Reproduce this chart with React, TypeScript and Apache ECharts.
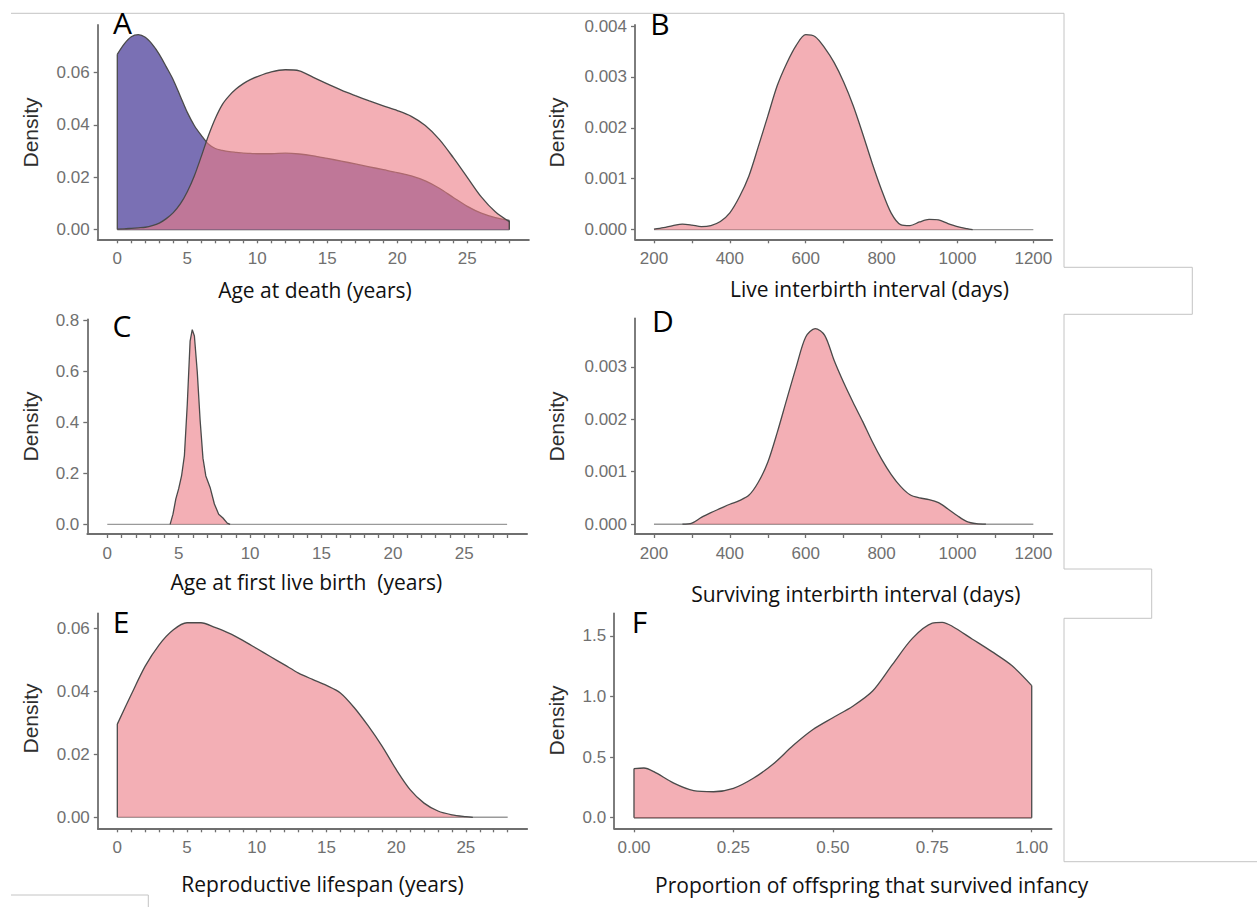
import React, { useEffect, useRef } from "react";
import * as echarts from "echarts";

// ---------- Panel A: age at death (two groups) ----------
const deathAgeYears = [0, 0.5, 1, 1.5, 2, 2.5, 3, 3.5, 4, 4.5, 5, 5.5, 6, 6.5, 7, 7.5, 8, 8.5, 9, 9.5, 10, 11, 12, 13, 14, 15, 16, 17, 18, 19, 20, 21, 22, 23, 24, 25, 26, 27, 28];
const deathDensityBlue = [0.067, 0.071, 0.0737, 0.0745, 0.0735, 0.0708, 0.067, 0.0622, 0.0572, 0.051, 0.0448, 0.0398, 0.036, 0.0327, 0.031, 0.0303, 0.0298, 0.0295, 0.0292, 0.0291, 0.029, 0.029, 0.0292, 0.0289, 0.0282, 0.0272, 0.0262, 0.0251, 0.024, 0.0229, 0.0218, 0.0205, 0.0186, 0.0158, 0.0123, 0.0089, 0.0063, 0.0046, 0.0035];
const deathDensityPink = [0.0002, 0.0003, 0.0005, 0.0007, 0.0009, 0.0015, 0.0025, 0.0042, 0.0065, 0.0098, 0.0145, 0.0205, 0.028, 0.0358, 0.0425, 0.0478, 0.0512, 0.0538, 0.0558, 0.0573, 0.0585, 0.0603, 0.0611, 0.0607, 0.0582, 0.0557, 0.0533, 0.0512, 0.0492, 0.0473, 0.0455, 0.0433, 0.0398, 0.0345, 0.0275, 0.0200, 0.0125, 0.0068, 0.003];

// ---------- Panel B: live interbirth interval ----------
const liveIbiDays = [200, 225, 250, 275, 300, 325, 350, 375, 400, 425, 450, 475, 500, 525, 550, 575, 600, 625, 650, 675, 700, 725, 750, 775, 800, 825, 850, 875, 900, 925, 950, 975, 1000, 1025, 1040];
const liveIbiDensity = [0.00001, 0.00004, 0.00008, 0.00011, 0.00009, 0.00006, 0.00008, 0.00016, 0.00033, 0.00064, 0.00105, 0.00163, 0.00223, 0.00283, 0.00327, 0.00362, 0.00383, 0.00379, 0.00357, 0.00328, 0.0029, 0.00244, 0.00189, 0.00131, 0.00078, 0.00033, 0.0001, 0.00008, 0.00015, 0.0002, 0.00019, 0.00012, 0.00006, 0.00002, 0];

// ---------- Panel C: age at first live birth ----------
const firstBirthAge = [4.4, 4.6, 4.8, 5.0, 5.2, 5.4, 5.6, 5.8, 5.95, 6.1, 6.3, 6.5, 6.7, 6.9, 7.2, 7.5, 7.8, 8.1, 8.4, 8.6];
const firstBirthDensity = [0, 0.04, 0.1, 0.14, 0.19, 0.27, 0.47, 0.72, 0.765, 0.74, 0.6, 0.41, 0.26, 0.19, 0.145, 0.08, 0.04, 0.025, 0.005, 0];

// ---------- Panel D: surviving interbirth interval ----------
const survIbiDays = [275, 300, 325, 350, 375, 400, 425, 450, 475, 500, 525, 550, 575, 600, 625, 650, 675, 700, 725, 750, 775, 800, 825, 850, 875, 900, 925, 950, 975, 1000, 1025, 1050, 1075];
const survIbiDensity = [0, 0.00002, 0.00013, 0.00022, 0.0003, 0.00038, 0.00045, 0.00055, 0.0008, 0.00118, 0.00175, 0.00238, 0.003, 0.00357, 0.00373, 0.0036, 0.00312, 0.0027, 0.00232, 0.00196, 0.00158, 0.00124, 0.00095, 0.00072, 0.00056, 0.0005, 0.00047, 0.00041, 0.00029, 0.00016, 0.00005, 0.00001, 0];

// ---------- Panel E: reproductive lifespan ----------
const reproYears = [0, 1, 2, 3, 4, 5, 6, 7, 8, 9, 10, 11, 12, 13, 14, 15, 16, 17, 18, 19, 20, 21, 22, 23, 24, 25, 25.5];
const reproDensity = [0.0296, 0.039, 0.048, 0.0548, 0.0595, 0.0618, 0.0618, 0.0603, 0.0585, 0.0562, 0.0536, 0.051, 0.0484, 0.0458, 0.0438, 0.0419, 0.0395, 0.0348, 0.029, 0.0225, 0.0152, 0.0088, 0.0045, 0.002, 0.0008, 0.0002, 0];

// ---------- Panel F: proportion of offspring surviving infancy ----------
const survProp = [0, 0.025, 0.05, 0.1, 0.15, 0.2, 0.25, 0.3, 0.35, 0.4, 0.45, 0.5, 0.55, 0.6, 0.65, 0.7, 0.75, 0.775, 0.8, 0.85, 0.9, 0.95, 1.0];
const survPropDensity = [0.405, 0.41, 0.38, 0.285, 0.223, 0.214, 0.242, 0.325, 0.443, 0.595, 0.727, 0.825, 0.92, 1.045, 1.265, 1.48, 1.605, 1.612, 1.58, 1.475, 1.37, 1.255, 1.09];

// ---------- ticks ----------
const yearTicks = [0, 1, 2, 3, 4, 5, 6, 7, 8, 9, 10, 11, 12, 13, 14, 15, 16, 17, 18, 19, 20, 21, 22, 23, 24, 25, 26, 27, 28];
const yearLabels = [0, 5, 10, 15, 20, 25];
const dayTicks = [200, 300, 400, 500, 600, 700, 800, 900, 1000, 1100, 1200];
const dayLabels = [200, 400, 600, 800, 1000, 1200];
const propTicks = [0, 0.25, 0.5, 0.75, 1.0];
const yTicksA = [0, 0.02, 0.04, 0.06];
const yTicksB = [0, 0.001, 0.002, 0.003, 0.004];
const yTicksC = [0, 0.2, 0.4, 0.6, 0.8];
const yTicksD = [0, 0.001, 0.002, 0.003];
const yTicksE = [0, 0.02, 0.04, 0.06];
const yTicksF = [0, 0.5, 1.0, 1.5];

const yearRange = [0, 28];
const dayRange = [200, 1200];
const propRange = [0, 1];

const titles = [
  "Age at death (years)",
  "Live interbirth interval (days)",
  "Age at first live birth  (years)",
  "Surviving interbirth interval (days)",
  "Reproductive lifespan (years)",
  "Proportion of offspring that survived infancy",
];
const letters = ["A", "B", "C", "D", "E", "F"];

const AX = "#6f6f6f";
const LAB = "#707070";
const OUT = "#4a4a4a";
const PINK = "rgba(235,124,134,0.61)";
const BLUE = "#7A70B4";

const pairs = (xs: number[], ys: number[]) => xs.map((x, i) => [x, ys[i]]);

const panels = [
  { grid: { left: 97.7, top: 25, width: 431.2, height: 214.3 }, xmin: -1.4, xmax: 29.4, xt: yearTicks, xl: yearLabels, xd: 0, ymin: -0.0037, ymax: 0.0782, yt: yTicksA, yd: 2 },
  { grid: { left: 635, top: 25, width: 417.3, height: 214.3 }, xmin: 150, xmax: 1250, xt: dayTicks, xl: dayLabels, xd: 0, ymin: -0.00019, ymax: 0.00402, yt: yTicksB, yd: 3 },
  { grid: { left: 87.3, top: 319.3, width: 439.8, height: 214.7 }, xmin: -1.4, xmax: 29.4, xt: yearTicks, xl: yearLabels, xd: 0, ymin: -0.038, ymax: 0.8055, yt: yTicksC, yd: 1 },
  { grid: { left: 635, top: 318.3, width: 417.3, height: 215.7 }, xmin: 150, xmax: 1250, xt: dayTicks, xl: dayLabels, xd: 0, ymin: -0.000187, ymax: 0.003925, yt: yTicksD, yd: 3 },
  { grid: { left: 97.8, top: 613.3, width: 429.4, height: 215 }, xmin: -1.4, xmax: 29.4, xt: yearTicks, xl: yearLabels, xd: 0, ymin: -0.0035, ymax: 0.0648, yt: yTicksE, yd: 2 },
  { grid: { left: 614.1, top: 613.3, width: 437.5, height: 215 }, xmin: -0.05, xmax: 1.05, xt: propTicks, xl: propTicks, xd: 2, ymin: -0.0875, ymax: 1.6865, yt: yTicksF, yd: 1 },
];

const densityPos = [
  [30.8, 132.5], [556, 132.5], [30.8, 426.5], [556, 426.5], [30.8, 718.5], [556, 720.5],
];
const titlePos = [
  [315, 289.5], [869.5, 288.8], [306.3, 581.8], [855.8, 593.5], [322.5, 883.5], [871.7, 885.1],
];
const letterPos = [
  [122.5, 22.5], [660, 23], [122, 325], [663, 320], [121, 621], [639.5, 621.7],
];

function areaSeries(i: number, xs: number[], ys: number[], fill: string, smooth: number | boolean, z: number) {
  return {
    type: "line",
    xAxisIndex: i,
    yAxisIndex: i,
    data: pairs(xs, ys),
    showSymbol: false,
    symbol: "none",
    smooth,
    silent: true,
    z,
    lineStyle: { color: OUT, width: 1.3 },
    areaStyle: { color: fill, opacity: 1 },
  };
}

function edgeSeries(i: number, xs: number[], ys: number[], z: number) {
  const out: any[] = [];
  const n = xs.length - 1;
  if (ys[0] > 0) out.push([[xs[0], 0], [xs[0], ys[0]]]);
  if (ys[n] > 0) out.push([[xs[n], ys[n]], [xs[n], 0]]);
  return out.map((d) => ({
    type: "line",
    xAxisIndex: i,
    yAxisIndex: i,
    data: d,
    showSymbol: false,
    symbol: "none",
    silent: true,
    z,
    lineStyle: { color: OUT, width: 1.3 },
  }));
}

function baseSeries(i: number, range: number[], color: string) {
  return {
    type: "line",
    xAxisIndex: i,
    yAxisIndex: i,
    data: [[range[0], 0], [range[1], 0]],
    showSymbol: false,
    symbol: "none",
    silent: true,
    z: 1,
    lineStyle: { color, width: 1.4 },
  };
}

function buildOption() {
  const grid = panels.map((p) => ({ ...p.grid, containLabel: false }));
  const xAxis = panels.map((p, i) => ({
    type: "value",
    gridIndex: i,
    min: p.xmin,
    max: p.xmax,
    axisLine: { show: true, onZero: false, lineStyle: { color: AX, width: 1.8 } },
    axisTick: { show: true, length: 4, customValues: p.xt, lineStyle: { color: AX, width: 1.3 } },
    axisLabel: {
      customValues: p.xl,
      formatter: (v: number) => v.toFixed(p.xd),
      margin: 11,
      color: LAB,
      fontFamily: "Liberation Sans",
      fontSize: 17,
    },
    splitLine: { show: false },
  }));
  const yAxis = panels.map((p, i) => ({
    type: "value",
    gridIndex: i,
    min: p.ymin,
    max: p.ymax,
    axisLine: { show: true, onZero: false, lineStyle: { color: AX, width: 1.8 } },
    axisTick: { show: true, length: 4, customValues: p.yt, lineStyle: { color: AX, width: 1.3 } },
    axisLabel: {
      customValues: p.yt,
      formatter: (v: number) => v.toFixed(p.yd),
      margin: 8,
      color: LAB,
      fontFamily: "Liberation Sans",
      fontSize: 17,
    },
    splitLine: { show: false },
  }));

  const series: any[] = [
    // A
    baseSeries(0, yearRange, OUT),
    areaSeries(0, deathAgeYears, deathDensityBlue, BLUE, 0.3, 2),
    ...edgeSeries(0, deathAgeYears, deathDensityBlue, 2),
    areaSeries(0, deathAgeYears, deathDensityPink, PINK, 0.3, 3),
    ...edgeSeries(0, deathAgeYears, deathDensityPink, 3),
    // B
    baseSeries(1, dayRange, "#9a9a9a"),
    areaSeries(1, liveIbiDays, liveIbiDensity, PINK, 0.3, 2),
    // C
    baseSeries(2, yearRange, "#9a9a9a"),
    areaSeries(2, firstBirthAge, firstBirthDensity, PINK, false, 2),
    // D
    baseSeries(3, dayRange, "#9a9a9a"),
    areaSeries(3, survIbiDays, survIbiDensity, PINK, 0.3, 2),
    // E
    baseSeries(4, yearRange, "#9a9a9a"),
    areaSeries(4, reproYears, reproDensity, PINK, 0.3, 2),
    ...edgeSeries(4, reproYears, reproDensity, 2),
    // F
    baseSeries(5, propRange, OUT),
    areaSeries(5, survProp, survPropDensity, PINK, 0.3, 2),
    ...edgeSeries(5, survProp, survPropDensity, 2),
  ];

  const graphic: any[] = [
    {
      type: "polyline",
      silent: true,
      z: 0,
      shape: {
        points: [
          [11, 13.3], [1064, 13.3], [1064, 267.3], [1192.3, 267.3], [1192.3, 314.3], [1064, 314.3],
          [1064, 569], [1151.7, 569], [1151.7, 618.3], [1064, 618.3], [1064, 861.7], [1257, 861.7],
        ],
      },
      style: { stroke: "#c4c4c4", lineWidth: 1, fill: null },
    },
    {
      type: "polyline",
      silent: true,
      z: 0,
      shape: { points: [[11, 895], [148.3, 895], [148.3, 907]] },
      style: { stroke: "#c4c4c4", lineWidth: 1, fill: null },
    },
  ];
  letters.forEach((t, i) => {
    graphic.push({
      type: "text",
      x: letterPos[i][0],
      y: letterPos[i][1],
      z: 10,
      style: { text: t, fill: "#000", font: '30px "Open Sans"', align: "center", verticalAlign: "middle" },
    });
  });
  titles.forEach((t, i) => {
    graphic.push({
      type: "text",
      x: titlePos[i][0],
      y: titlePos[i][1],
      z: 10,
      style: { text: t, fill: "#111", font: '21px "Open Sans"', align: "center", verticalAlign: "middle" },
    });
  });
  densityPos.forEach((p) => {
    graphic.push({
      type: "text",
      x: p[0],
      y: p[1],
      rotation: Math.PI / 2,
      z: 10,
      style: { text: "Density", fill: "#2e2e2e", font: '21px "Liberation Sans"', align: "center", verticalAlign: "middle" },
    });
  });

  return { animation: false, backgroundColor: "#ffffff", grid, xAxis, yAxis, series, graphic };
}

export default function App() {
  const ref = useRef<HTMLDivElement>(null);
  useEffect(() => {
    const chart = echarts.init(ref.current as HTMLDivElement, null, { renderer: "svg" });
    chart.setOption(buildOption() as any);
    return () => chart.dispose();
  }, []);
  return (
    <div
      ref={ref}
      style={{ position: "absolute", left: 0, top: 0, width: 1257, height: 907, background: "#fff" }}
    />
  );
}
